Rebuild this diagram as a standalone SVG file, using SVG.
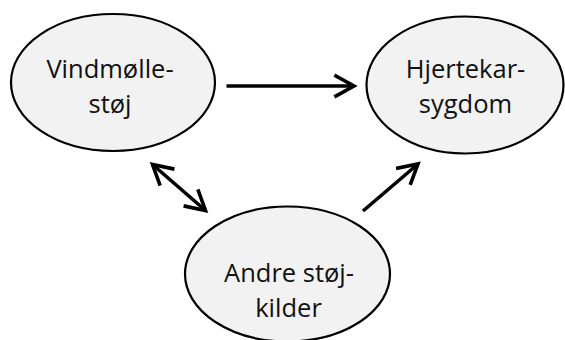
<svg xmlns="http://www.w3.org/2000/svg" width="565" height="340" viewBox="0 0 565 340">
  <style>
    .node ellipse { fill: #f2f2f2; stroke: #000; stroke-width: 2.2; }
    .node text { font-family: "Open Sans", "Liberation Sans", sans-serif; font-size: 25.5px; fill: #111; text-anchor: middle; }
    .edge { fill: none; stroke: #000; stroke-width: 3.6; }
  </style>
  <defs>
    <marker id="arrow" viewBox="-22 -13 26 26" refX="0" refY="0" markerWidth="26" markerHeight="26" markerUnits="userSpaceOnUse" orient="auto-start-reverse">
      <path d="M -18 -10 L 0 0 L -18 10" fill="none" stroke="#000" stroke-width="3.6" stroke-linecap="square" stroke-linejoin="miter"/>
    </marker>
  </defs>

  <rect width="565" height="340" fill="#fff"/>

  <g id="node-vindmolle" class="node">
    <ellipse cx="113" cy="82.5" rx="102" ry="68.5"/>
    <text x="110" y="78">Vindmølle-</text>
    <text x="110" y="113">støj</text>
  </g>

  <g id="node-hjertekar" class="node">
    <ellipse cx="465" cy="85" rx="98.5" ry="68.5"/>
    <text x="465.5" y="78">Hjertekar-</text>
    <text x="465.5" y="113">sygdom</text>
  </g>

  <g id="node-andre" class="node">
    <ellipse cx="287.5" cy="274" rx="102.5" ry="67.5"/>
    <text x="289" y="281.5">Andre støj-</text>
    <text x="288.5" y="316.5">kilder</text>
  </g>

  <g id="connectors">
    <line class="edge" x1="226.5" y1="86" x2="354" y2="86" marker-end="url(#arrow)"/>
    <line class="edge" x1="152.5" y1="164.5" x2="205.5" y2="210.5" marker-start="url(#arrow)" marker-end="url(#arrow)"/>
    <line class="edge" x1="363" y1="211" x2="418" y2="164" marker-end="url(#arrow)"/>
  </g>
</svg>
